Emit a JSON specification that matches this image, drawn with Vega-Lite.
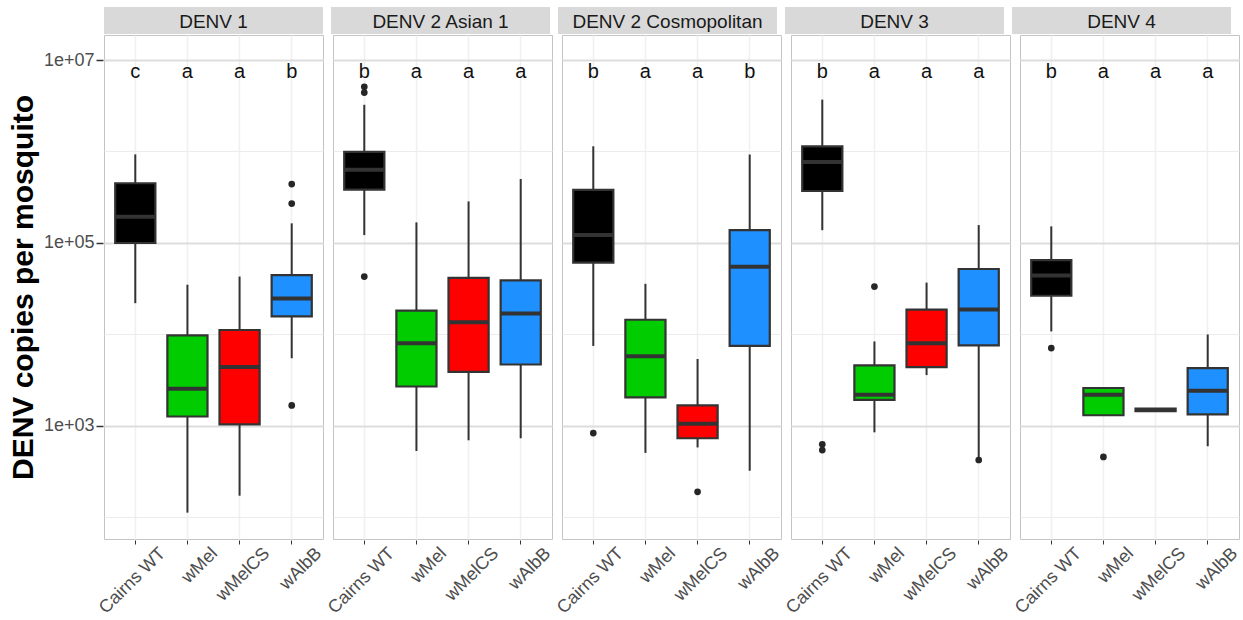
{
  "$schema": "https://vega.github.io/schema/vega-lite/v6.json",
  "padding": {"left": 8, "top": 7, "right": 2, "bottom": 0},
  "background": "white",
  "config": {
    "font": "Liberation Sans",
    "view": {"stroke": "#c4c4c4", "strokeWidth": 1},
    "axis": {"domain": false}
  },
  "spacing": 0,
  "datasets": {
    "strips": [
      {"virus": "DENV 1"},
      {"virus": "DENV 2 Asian 1"},
      {"virus": "DENV 2 Cosmopolitan"},
      {"virus": "DENV 3"},
      {"virus": "DENV 4"}
    ],
    "main": [
      {"kind": "box", "virus": "DENV 1", "group": "Cairns WT", "lo": 22000, "q1": 100000, "med": 193000, "q3": 450000, "hi": 930000},
      {"kind": "box", "virus": "DENV 1", "group": "wMel", "lo": 113, "q1": 1270, "med": 2550, "q3": 9800, "hi": 35000},
      {"kind": "box", "virus": "DENV 1", "group": "wMelCS", "lo": 173, "q1": 1040, "med": 4400, "q3": 11200, "hi": 43000},
      {"kind": "box", "virus": "DENV 1", "group": "wAlbB", "lo": 5500, "q1": 15800, "med": 24800, "q3": 44600, "hi": 164000},
      {"kind": "out", "virus": "DENV 1", "group": "wAlbB", "y": 440000},
      {"kind": "out", "virus": "DENV 1", "group": "wAlbB", "y": 270000},
      {"kind": "out", "virus": "DENV 1", "group": "wAlbB", "y": 1680},

      {"kind": "box", "virus": "DENV 2 Asian 1", "group": "Cairns WT", "lo": 122000, "q1": 384000, "med": 630000, "q3": 990000, "hi": 3240000},
      {"kind": "box", "virus": "DENV 2 Asian 1", "group": "wMel", "lo": 533, "q1": 2700, "med": 8000, "q3": 18200, "hi": 168000},
      {"kind": "box", "virus": "DENV 2 Asian 1", "group": "wMelCS", "lo": 698, "q1": 3900, "med": 13600, "q3": 41600, "hi": 285000},
      {"kind": "box", "virus": "DENV 2 Asian 1", "group": "wAlbB", "lo": 735, "q1": 4700, "med": 17000, "q3": 39000, "hi": 500000},
      {"kind": "out", "virus": "DENV 2 Asian 1", "group": "Cairns WT", "y": 5100000},
      {"kind": "out", "virus": "DENV 2 Asian 1", "group": "Cairns WT", "y": 4400000},
      {"kind": "out", "virus": "DENV 2 Asian 1", "group": "Cairns WT", "y": 43000},

      {"kind": "box", "virus": "DENV 2 Cosmopolitan", "group": "Cairns WT", "lo": 7500, "q1": 61000, "med": 122000, "q3": 380000, "hi": 1140000},
      {"kind": "box", "virus": "DENV 2 Cosmopolitan", "group": "wMel", "lo": 508, "q1": 2050, "med": 5800, "q3": 14500, "hi": 35800},
      {"kind": "box", "virus": "DENV 2 Cosmopolitan", "group": "wMelCS", "lo": 583, "q1": 735, "med": 1060, "q3": 1680, "hi": 5400},
      {"kind": "box", "virus": "DENV 2 Cosmopolitan", "group": "wAlbB", "lo": 324, "q1": 7500, "med": 55000, "q3": 138000, "hi": 930000},
      {"kind": "out", "virus": "DENV 2 Cosmopolitan", "group": "Cairns WT", "y": 836},
      {"kind": "out", "virus": "DENV 2 Cosmopolitan", "group": "wMelCS", "y": 191},

      {"kind": "box", "virus": "DENV 3", "group": "Cairns WT", "lo": 138000, "q1": 370000, "med": 770000, "q3": 1140000, "hi": 3690000},
      {"kind": "box", "virus": "DENV 3", "group": "wMel", "lo": 853, "q1": 1930, "med": 2200, "q3": 4600, "hi": 8400},
      {"kind": "box", "virus": "DENV 3", "group": "wMelCS", "lo": 3600, "q1": 4400, "med": 8000, "q3": 18700, "hi": 36900},
      {"kind": "box", "virus": "DENV 3", "group": "wAlbB", "lo": 440, "q1": 7600, "med": 18700, "q3": 52000, "hi": 157000},
      {"kind": "out", "virus": "DENV 3", "group": "Cairns WT", "y": 631},
      {"kind": "out", "virus": "DENV 3", "group": "Cairns WT", "y": 545},
      {"kind": "out", "virus": "DENV 3", "group": "wMel", "y": 33400},
      {"kind": "out", "virus": "DENV 3", "group": "wAlbB", "y": 425},

      {"kind": "box", "virus": "DENV 4", "group": "Cairns WT", "lo": 10800, "q1": 26500, "med": 44000, "q3": 65000, "hi": 152000},
      {"kind": "box", "virus": "DENV 4", "group": "wMel", "lo": 1310, "q1": 1310, "med": 2200, "q3": 2600, "hi": 2600},
      {"kind": "box", "virus": "DENV 4", "group": "wMelCS", "lo": 1450, "q1": 1450, "med": 1500, "q3": 1550, "hi": 1550},
      {"kind": "box", "virus": "DENV 4", "group": "wAlbB", "lo": 601, "q1": 1340, "med": 2430, "q3": 4300, "hi": 10000},
      {"kind": "out", "virus": "DENV 4", "group": "Cairns WT", "y": 7100},
      {"kind": "out", "virus": "DENV 4", "group": "wMel", "y": 459},

      {"kind": "letter", "virus": "DENV 1", "group": "Cairns WT", "letter": "c", "y": 7400000},
      {"kind": "letter", "virus": "DENV 1", "group": "wMel", "letter": "a", "y": 7400000},
      {"kind": "letter", "virus": "DENV 1", "group": "wMelCS", "letter": "a", "y": 7400000},
      {"kind": "letter", "virus": "DENV 1", "group": "wAlbB", "letter": "b", "y": 7400000},
      {"kind": "letter", "virus": "DENV 2 Asian 1", "group": "Cairns WT", "letter": "b", "y": 7400000},
      {"kind": "letter", "virus": "DENV 2 Asian 1", "group": "wMel", "letter": "a", "y": 7400000},
      {"kind": "letter", "virus": "DENV 2 Asian 1", "group": "wMelCS", "letter": "a", "y": 7400000},
      {"kind": "letter", "virus": "DENV 2 Asian 1", "group": "wAlbB", "letter": "a", "y": 7400000},
      {"kind": "letter", "virus": "DENV 2 Cosmopolitan", "group": "Cairns WT", "letter": "b", "y": 7400000},
      {"kind": "letter", "virus": "DENV 2 Cosmopolitan", "group": "wMel", "letter": "a", "y": 7400000},
      {"kind": "letter", "virus": "DENV 2 Cosmopolitan", "group": "wMelCS", "letter": "a", "y": 7400000},
      {"kind": "letter", "virus": "DENV 2 Cosmopolitan", "group": "wAlbB", "letter": "b", "y": 7400000},
      {"kind": "letter", "virus": "DENV 3", "group": "Cairns WT", "letter": "b", "y": 7400000},
      {"kind": "letter", "virus": "DENV 3", "group": "wMel", "letter": "a", "y": 7400000},
      {"kind": "letter", "virus": "DENV 3", "group": "wMelCS", "letter": "a", "y": 7400000},
      {"kind": "letter", "virus": "DENV 3", "group": "wAlbB", "letter": "a", "y": 7400000},
      {"kind": "letter", "virus": "DENV 4", "group": "Cairns WT", "letter": "b", "y": 7400000},
      {"kind": "letter", "virus": "DENV 4", "group": "wMel", "letter": "a", "y": 7400000},
      {"kind": "letter", "virus": "DENV 4", "group": "wMelCS", "letter": "a", "y": 7400000},
      {"kind": "letter", "virus": "DENV 4", "group": "wAlbB", "letter": "a", "y": 7400000}
    ]
  },
  "vconcat": [
    {
      "data": {"name": "strips"},
      "facet": {"column": {"field": "virus", "type": "nominal", "sort": ["DENV 1", "DENV 2 Asian 1", "DENV 2 Cosmopolitan", "DENV 3", "DENV 4"], "header": null}},
      "spacing": 8,
      "spec": {
        "width": 219,
        "height": 27,
        "view": {"fill": "#d9d9d9", "stroke": null},
        "mark": {"type": "text", "fontSize": 19, "color": "#1a1a1a", "baseline": "middle", "align": "center", "dy": 1},
        "encoding": {"text": {"field": "virus", "type": "nominal"}}
      }
    },
    {
      "data": {"name": "main"},
      "facet": {"column": {"field": "virus", "type": "nominal", "sort": ["DENV 1", "DENV 2 Asian 1", "DENV 2 Cosmopolitan", "DENV 3", "DENV 4"], "header": null}},
      "spacing": 8,
      "spec": {
        "width": 219,
        "height": 504,
        "encoding": {
          "x": {
            "field": "group", "type": "nominal",
            "sort": ["Cairns WT", "wMel", "wMelCS", "wAlbB"],
            "scale": {"paddingInner": 0, "paddingOuter": 0.1},
            "axis": {
              "title": null, "bandPosition": 0.5,
              "grid": true, "gridColor": "#f0f0f0", "gridWidth": 1.5,
              "ticks": true, "tickSize": 4, "tickColor": "#333333", "tickWidth": 1,
              "labelAngle": -45, "labelAlign": "right", "labelBaseline": "top",
              "labelFontSize": 18, "labelColor": "#4d4d4d", "labelPadding": 0, "labelOffset": 21
            }
          }
        },
        "layer": [
          {
            "transform": [{"filter": "datum.kind == 'box'"}],
            "mark": {"type": "rule", "color": "#333333", "strokeWidth": 2},
            "encoding": {
              "y": {
                "field": "lo", "type": "quantitative",
                "title": "DENV copies per mosquito",
                "scale": {"type": "log", "domain": [58.2, 18760000], "nice": false, "zero": false},
                "axis": {
                  "values": [100, 1000, 10000, 100000, 1000000, 10000000],
                  "labelExpr": "datum.value == 1000 ? '1e+03' : datum.value == 100000 ? '1e+05' : datum.value == 10000000 ? '1e+07' : ''",
                  "grid": true,
                  "gridColor": {"condition": {"test": "datum.value == 1000 || datum.value == 100000 || datum.value == 10000000", "value": "#dddddd"}, "value": "#ececec"},
                  "gridWidth": {"condition": {"test": "datum.value == 1000 || datum.value == 100000 || datum.value == 10000000", "value": 2}, "value": 1},
                  "tickOpacity": {"condition": {"test": "datum.value == 1000 || datum.value == 100000 || datum.value == 10000000", "value": 1}, "value": 0},
                  "tickColor": "#333333", "tickSize": 7, "tickWidth": 1.5,
                  "labelFontSize": 18, "labelColor": "#4d4d4d", "labelPadding": 2,
                  "titleFontSize": 30, "titleFontWeight": "bold", "titleColor": "#000000", "titlePadding": 5
                }
              },
              "y2": {"field": "hi"}
            }
          },
          {
            "transform": [{"filter": "datum.kind == 'box'"}],
            "mark": {"type": "bar", "width": {"band": 0.77}, "stroke": "#333333", "strokeWidth": 2.2},
            "encoding": {
              "y": {"field": "q1", "type": "quantitative", "title": "DENV copies per mosquito"},
              "y2": {"field": "q3"},
              "fill": {
                "field": "group", "type": "nominal",
                "scale": {"domain": ["Cairns WT", "wMel", "wMelCS", "wAlbB"], "range": ["#000000", "#00cc00", "#ff0000", "#1e90ff"]},
                "legend": null
              }
            }
          },
          {
            "transform": [{"filter": "datum.kind == 'box'"}],
            "mark": {"type": "tick", "color": "#333333", "size": 40, "thickness": 4, "opacity": 1},
            "encoding": {
              "y": {"field": "med", "type": "quantitative", "title": "DENV copies per mosquito"}
            }
          },
          {
            "transform": [{"filter": "datum.kind == 'out'"}],
            "mark": {"type": "circle", "color": "#262626", "size": 45, "opacity": 1},
            "encoding": {
              "y": {"field": "y", "type": "quantitative", "title": "DENV copies per mosquito"}
            }
          },
          {
            "transform": [{"filter": "datum.kind == 'letter'"}],
            "mark": {"type": "text", "fontSize": 20, "color": "#111111", "baseline": "middle"},
            "encoding": {
              "y": {"field": "y", "type": "quantitative", "title": "DENV copies per mosquito"},
              "text": {"field": "letter", "type": "nominal"}
            }
          }
        ]
      }
    }
  ]
}
